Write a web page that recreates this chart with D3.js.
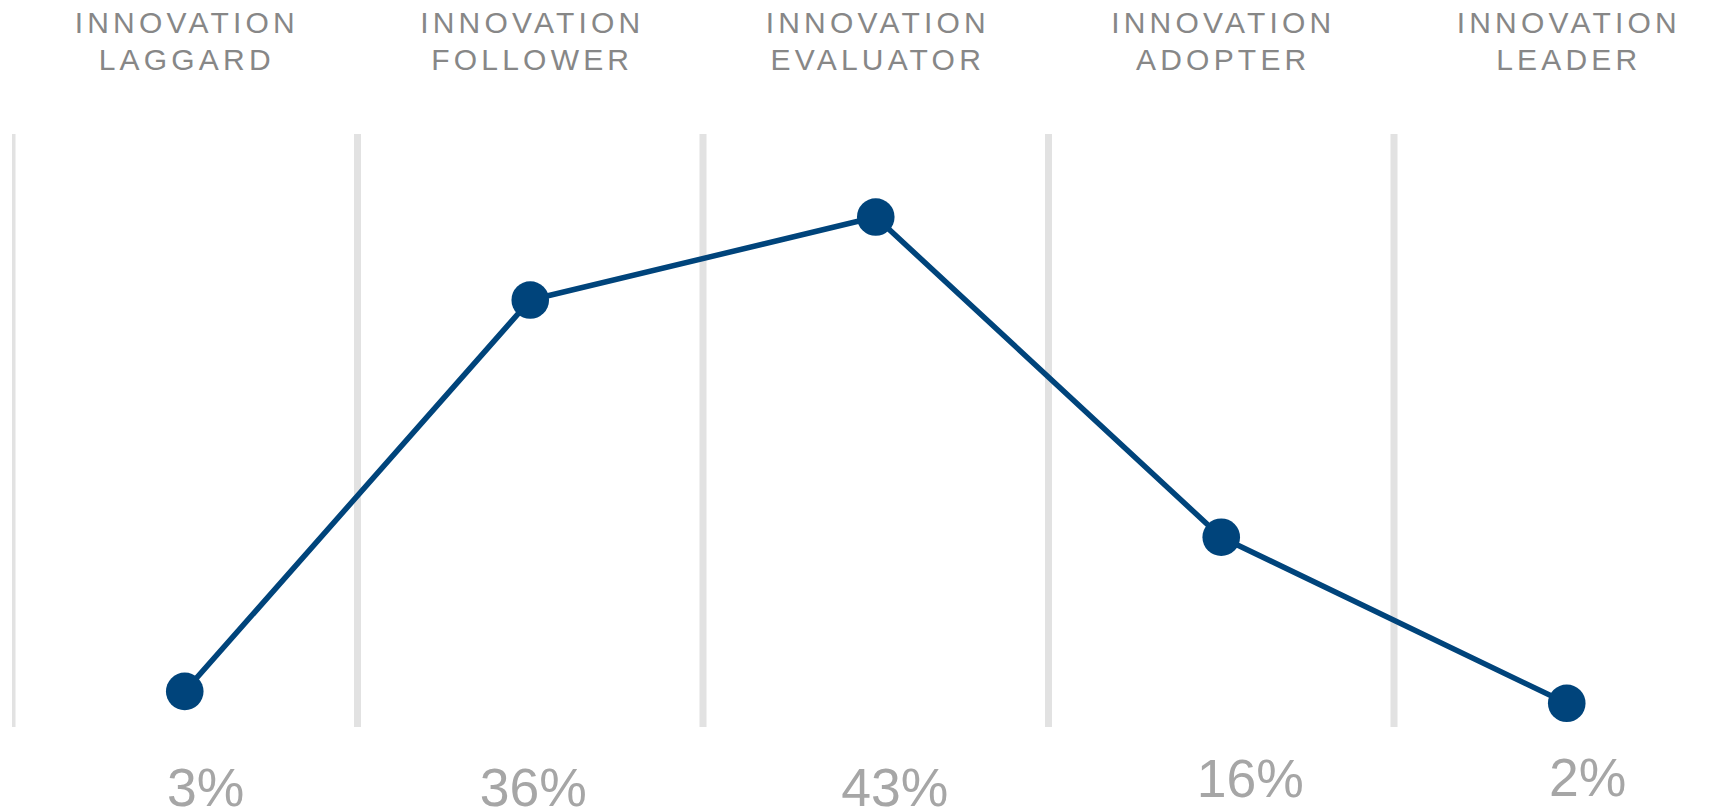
<!DOCTYPE html>
<html>
<head>
<meta charset="utf-8">
<script src="https://cdn.jsdelivr.net/npm/d3@7/dist/d3.min.js"></script>
<style>
  html, body { margin: 0; padding: 0; background: #ffffff; }
  svg { display: block; }
</style>
</head>
<body>
<svg id="chart" width="1724" height="812"></svg>
<script>
// Innovation maturity segments and the share of respondents in each
const categories = ["laggard", "follower", "evaluator", "adopter", "leader"];
const headerLines = [
  ["INNOVATION", "LAGGARD"],
  ["INNOVATION", "FOLLOWER"],
  ["INNOVATION", "EVALUATOR"],
  ["INNOVATION", "ADOPTER"],
  ["INNOVATION", "LEADER"]
];
const shares = [3, 36, 43, 16, 2];
const shareLabels = ["3%", "36%", "43%", "16%", "2%"];

// Layout
const width = 1724, height = 812;
const plotLeft = 12, plotRight = 1739.5, plotTop = 134, plotBottom = 727;
// small horizontal nudges / baselines for the percentage labels
const labelNudge = [21, 3, 19, 29, 21];
const labelBaseline = [806, 806, 806, 797, 795.5];

const svg = d3.select("#chart");

const x = d3.scaleBand()
  .domain(categories)
  .range([plotLeft, plotRight])
  .paddingInner(0)
  .paddingOuter(0);

const y = d3.scaleLinear()
  .domain([0, 50])
  .range([plotBottom, plotTop]);

svg.append("defs").append("clipPath")
  .attr("id", "plot-clip")
  .append("rect")
  .attr("x", plotLeft)
  .attr("y", 0)
  .attr("width", plotRight - plotLeft)
  .attr("height", height);

// Vertical separators at the left edge of every segment
svg.append("g")
  .attr("clip-path", "url(#plot-clip)")
  .selectAll("line")
  .data(categories)
  .join("line")
  .attr("x1", d => x(d))
  .attr("x2", d => x(d))
  .attr("y1", plotTop)
  .attr("y2", plotBottom)
  .attr("stroke", "#e2e2e2")
  .attr("stroke-width", 7);

// Segment headers
const headers = svg.append("g")
  .attr("font-family", "'Liberation Sans', Arial, Helvetica, sans-serif")
  .attr("font-size", 30)
  .attr("fill", "#878787")
  .attr("text-anchor", "middle")
  .attr("letter-spacing", 4.2);

headers.selectAll("text")
  .data(categories)
  .join("text")
  .attr("x", d => x(d) + x.bandwidth() / 2 + 2)
  .attr("y", 33.3)
  .each(function (d, i) {
    d3.select(this).selectAll("tspan")
      .data(headerLines[i])
      .join("tspan")
      .attr("x", x(d) + x.bandwidth() / 2 + 2)
      .attr("dy", (t, j) => j === 0 ? 0 : 36.7)
      .text(t => t);
  });

// Line connecting the shares
const points = categories.map((c, i) => ({ c, v: shares[i] }));

const line = d3.line()
  .x(d => x(d.c) + x.bandwidth() / 2)
  .y(d => y(d.v));

svg.append("path")
  .datum(points)
  .attr("d", line)
  .attr("fill", "none")
  .attr("stroke", "#00447b")
  .attr("stroke-width", 5.5)
  .attr("stroke-linejoin", "round");

svg.append("g")
  .selectAll("circle")
  .data(points)
  .join("circle")
  .attr("cx", d => x(d.c) + x.bandwidth() / 2)
  .attr("cy", d => y(d.v))
  .attr("r", 18.8)
  .attr("fill", "#00447b");

// Percentage labels under each segment
svg.append("g")
  .attr("font-family", "'Liberation Sans', Arial, Helvetica, sans-serif")
  .attr("font-size", 53.5)
  .attr("fill", "#a6a6a6")
  .attr("text-anchor", "middle")
  .selectAll("text")
  .data(categories)
  .join("text")
  .attr("x", (d, i) => x(d) + x.bandwidth() / 2 + labelNudge[i])
  .attr("y", (d, i) => labelBaseline[i])
  .text((d, i) => shareLabels[i]);
</script>
</body>
</html>
